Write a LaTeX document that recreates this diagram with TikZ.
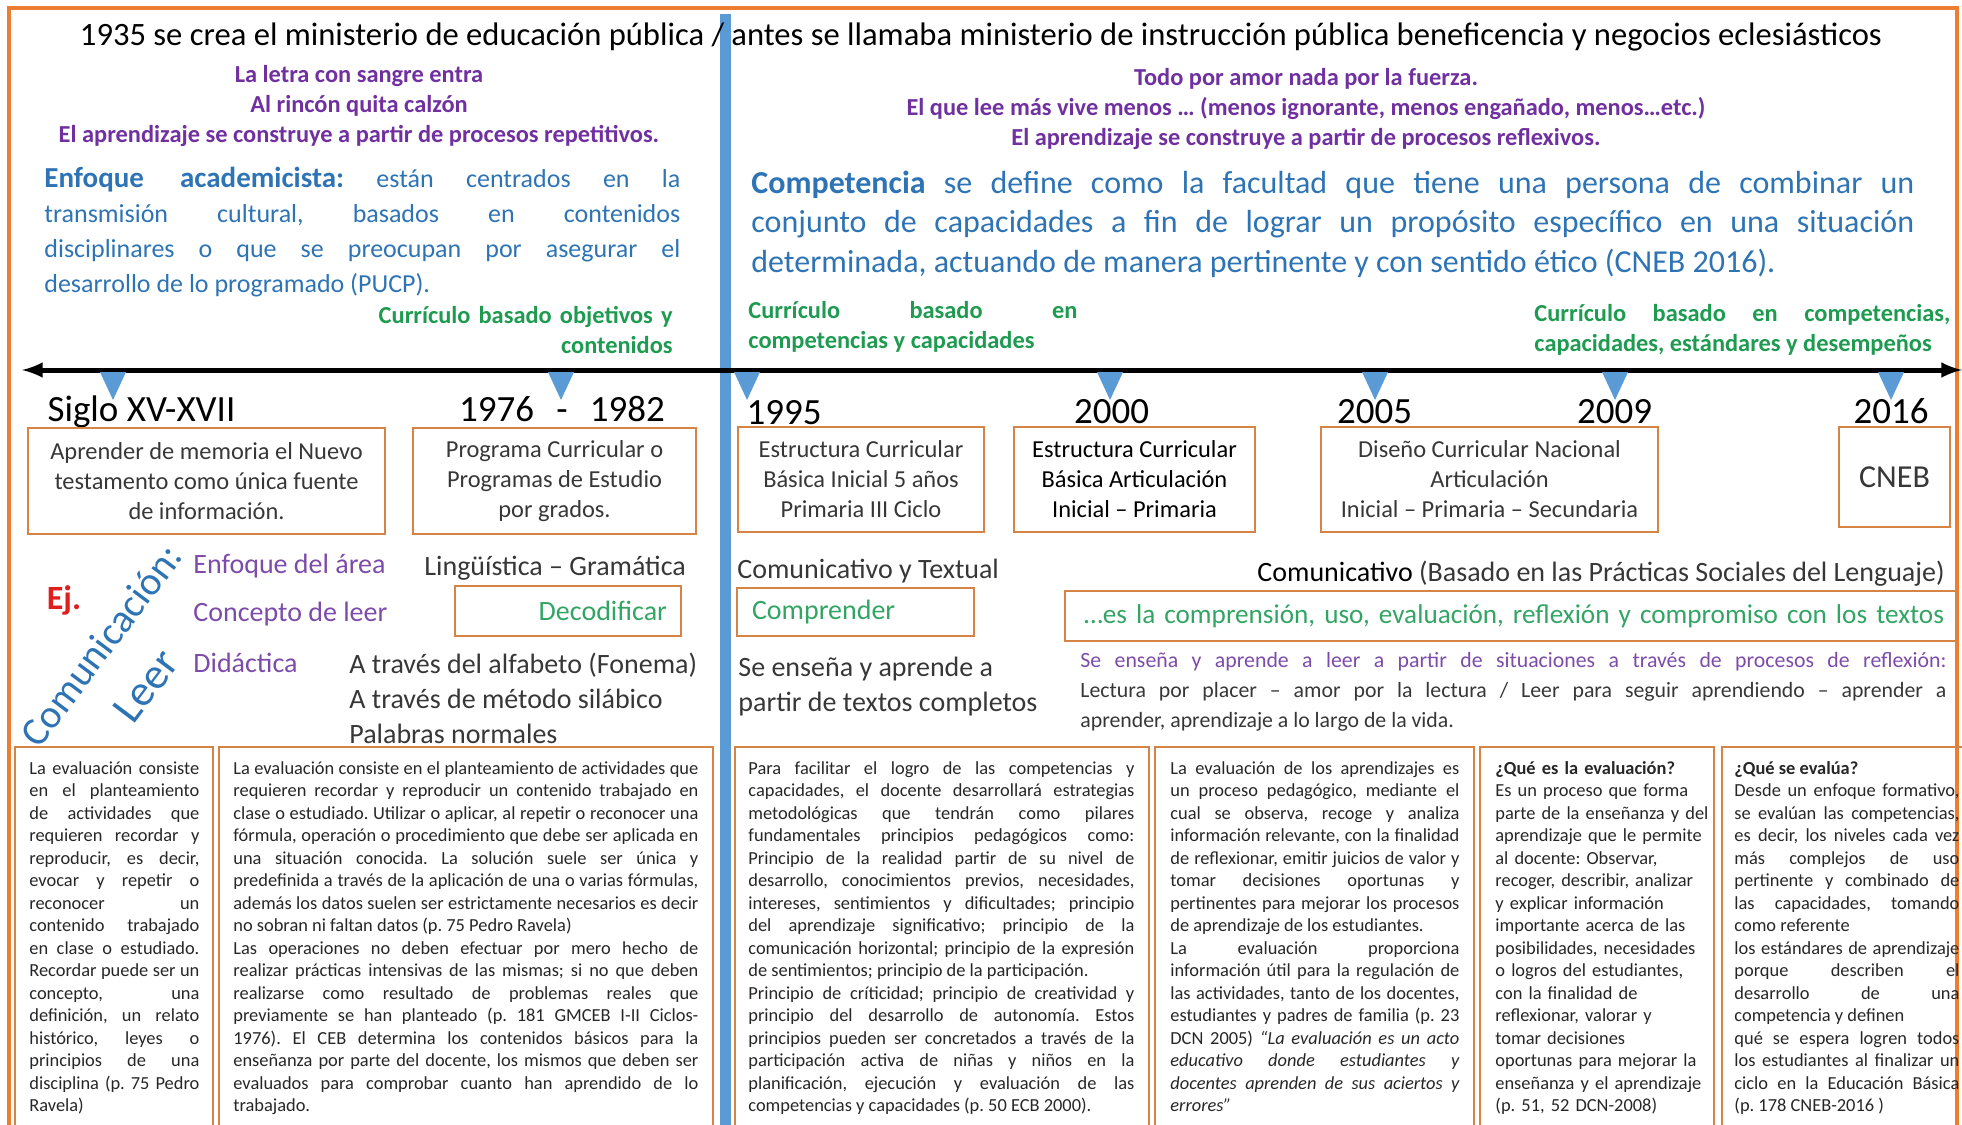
\documentclass[tikz,border=0pt]{standalone}
\usepackage{fontspec}
\setmainfont{Carlito}
\usepackage{tikz}
\setlength{\parindent}{0pt}
\frenchspacing

\definecolor{frameorange}{RGB}{237,125,49}
\definecolor{boxorange}{RGB}{214,132,70}
\definecolor{barblue}{RGB}{91,155,213}
\definecolor{txtblue}{RGB}{46,116,181}
\definecolor{txtpurple}{RGB}{112,48,160}
\definecolor{lblpurple}{RGB}{125,75,170}
\definecolor{txtgreen}{RGB}{30,155,80}
\definecolor{lightgreen}{RGB}{50,165,100}
\definecolor{txtgray}{RGB}{55,55,55}
\definecolor{ejred}{RGB}{225,30,30}

\tikzset{
  orangebox/.style={draw=boxorange, line width=1pt},
  yearlbl/.style={font=\fontsize{18.5}{22}\selectfont, anchor=mid, inner sep=0pt},
  saying/.style={font=\fontsize{12.2}{15}\selectfont\bfseries, text=txtpurple, anchor=mid, inner sep=0pt},
  currlbl/.style={font=\fontsize{12.2}{15}\selectfont\bfseries, text=txtgreen, inner sep=0pt},
  periodbox/.style={orangebox, font=\fontsize{12.2}{15}\selectfont, text=txtgray, align=center, inner sep=0pt},
  areatag/.style={font=\fontsize{14}{17}\selectfont, text=lblpurple, anchor=mid west, inner sep=0pt},
  plainline/.style={font=\fontsize{14}{17}\selectfont, text=txtgray, anchor=mid west, inner sep=0pt},
  evaltext/.style={font=\fontsize{9.2}{11.25}\selectfont, text=black!85, anchor=base west, inner sep=0pt, align=justify},
  yeartick/.style={fill=barblue}
}

\begin{document}
\begin{tikzpicture}[x=0.5pt, y=-0.5pt]
\useasboundingbox (0,0) rectangle (1962,1124);
\clip (0,0) rectangle (1962,1124);

% marco y division
\draw[frameorange, line width=2pt] (9,8) rectangle (1957,1140);
\fill[barblue] (720,14) rectangle (731,1130);

% titulo
\node[font=\fontsize{16.3}{19}\selectfont, anchor=mid, inner sep=0pt] (title) at (981,40.5) {1935 se crea el ministerio de educación pública / antes se llamaba ministerio de instrucción pública beneficencia y negocios eclesiásticos};

% frases
\node[saying] (say-l1) at (359,77.5) {La letra con sangre entra};
\node[saying] (say-l2) at (359,107.5) {Al rincón quita calzón};
\node[saying] (say-l3) at (359,137.5) {El aprendizaje se construye a partir de procesos repetitivos.};
\node[saying] (say-r1) at (1306,81) {Todo por amor nada por la fuerza.};
\node[saying] (say-r2) at (1306,111) {El que lee más vive menos … (menos ignorante, menos engañado, menos…etc.)};
\node[saying] (say-r3) at (1306,141) {El aprendizaje se construye a partir de procesos reflexivos.};

% enfoques
\node[anchor=base west, inner sep=0pt, text width=318pt, align=justify, font=\fontsize{13}{17.5}\selectfont, text=txtblue] (enfoque) at (44,187.5) {{\fontsize{14.5}{17.5}\selectfont\bfseries Enfoque academicista:} están centrados en la\linebreak transmisión cultural, basados en contenidos\linebreak disciplinares o que se preocupan por asegurar el\linebreak desarrollo de lo programado (PUCP).};
\node[anchor=base west, inner sep=0pt, text width=581.5pt, align=justify, font=\fontsize{16}{19.75}\selectfont, text=txtblue] (competencia) at (751,193) {\textbf{Competencia} se define como la facultad que tiene una persona de combinar un\linebreak conjunto de capacidades a fin de lograr un propósito específico en una situación\linebreak determinada, actuando de manera pertinente y con sentido ético (CNEB 2016).};

\node[currlbl, anchor=base east, text width=160pt, align=right] (curr-obj) at (673,323.5) {Currículo basado objetivos y\\contenidos};
\node[currlbl, anchor=base west, text width=164.5pt, align=justify] (curr-comp) at (748,318.5) {Currículo basado en\linebreak competencias y capacidades};
\node[currlbl, anchor=base west, text width=208pt, align=justify] (curr-std) at (1534,321.5) {Currículo basado en competencias,\linebreak capacidades, estándares y desempeños};

% linea de tiempo
\coordinate (tl-west) at (22,370);
\coordinate (tl-east) at (1962,370);
\draw[line width=2.5pt, latex-latex] (tl-west) -- (tl-east);
\fill[yeartick] (100,372) -- (126,372) -- (113,400) -- cycle;
\fill[yeartick] (548,372) -- (574,372) -- (561,400) -- cycle;
\fill[yeartick] (734,372) -- (760,372) -- (747,400) -- cycle;
\fill[yeartick] (1097,372) -- (1123,372) -- (1110,400) -- cycle;
\fill[yeartick] (1362,372) -- (1388,372) -- (1375,400) -- cycle;
\fill[yeartick] (1602,372) -- (1628,372) -- (1615,400) -- cycle;
\fill[yeartick] (1878,372) -- (1904,372) -- (1891,400) -- cycle;

\node[yearlbl] (y-siglo) at (141.5,416.5) {Siglo XV-XVII};
\node[yearlbl] (y-1976) at (562,416.5) {1976\hspace{0.6em}-\hspace{0.6em}1982};
\node[yearlbl] (y-1995) at (784,420) {1995};
\node[yearlbl] (y-2000) at (1111.5,419) {2000};
\node[yearlbl] (y-2005) at (1374.5,419) {2005};
\node[yearlbl] (y-2009) at (1614.5,419) {2009};
\node[yearlbl] (y-2016) at (1891,419) {2016};

\node[periodbox, minimum width=178.5pt, minimum height=53pt] (p-siglo) at (206.5,481) {Aprender de memoria el Nuevo\\testamento como única fuente\\de información.};
\node[periodbox, minimum width=141.5pt, minimum height=53pt] (p-1976) at (554.5,481) {Programa Curricular o\\Programas de Estudio\\por grados.};
\node[periodbox, minimum width=123pt, minimum height=52.5pt] (p-1995) at (861,479.5) {Estructura Curricular\\Básica Inicial 5 años\\Primaria III Ciclo};
\node[periodbox, minimum width=120.5pt, minimum height=52.5pt, text=black] (p-2000) at (1134.5,479.5) {Estructura Curricular\\Básica Articulación\\Inicial – Primaria};
\node[periodbox, minimum width=168.5pt, minimum height=52.5pt] (p-2005) at (1489.5,479.5) {Diseño Curricular Nacional\\Articulación\\Inicial – Primaria – Secundaria};
\node[periodbox, minimum width=55.5pt, minimum height=50pt, font=\fontsize{16}{19}\selectfont] (p-2016) at (1894.5,477) {CNEB};

% ejemplo: comunicacion
\node[font=\fontsize{17}{20}\selectfont\bfseries, text=ejred, anchor=mid, inner sep=0pt] (ej) at (64,605) {Ej.};
\node[font=\fontsize{20}{24}\selectfont, text=txtblue, rotate=53, inner sep=0pt] (area) at (101,645) {Comunicación:};
\node[font=\fontsize{22}{26}\selectfont, text=txtblue, rotate=53, inner sep=0pt] (leer) at (146,686) {Leer};

\node[areatag] (tag-enfoque) at (193,569) {Enfoque del área};
\node[areatag] (tag-concepto) at (193,617) {Concepto de leer};
\node[areatag] (tag-didactica) at (193,668) {Didáctica};

\node[plainline] (old-enfoque) at (424,571) {Lingüística – Gramática};
\node[orangebox, font=\fontsize{14}{17}\selectfont, text=lightgreen, minimum height=25pt, inner xsep=7pt, inner ysep=0pt, text width=99pt, align=right] (old-concepto) at (568,611) {Decodificar};
\node[plainline] (old-did1) at (349,669) {A través del alfabeto (Fonema)};
\node[plainline] (old-did2) at (349,704) {A través de método silábico};
\node[plainline] (old-did3) at (349,739) {Palabras normales};

\node[plainline] (mid-enfoque) at (737,574) {Comunicativo y Textual};
\node[orangebox, font=\fontsize{14}{17}\selectfont, text=lightgreen, minimum height=24pt, inner xsep=7.5pt, inner ysep=0pt, text width=103.5pt, align=left] (mid-concepto) at (855.5,612) {Comprender};
\node[plainline] (mid-did1) at (738,672) {Se enseña y aprende a};
\node[plainline] (mid-did2) at (738,707) {partir de textos completos};

\node[plainline, anchor=mid east] (new-enfoque) at (1945,577) {\textcolor{black}{Comunicativo} (Basado en las Prácticas Sociales del Lenguaje)};
\node[orangebox, font=\fontsize{13.6}{17}\selectfont, text=lightgreen, minimum height=25pt, inner xsep=9.5pt, inner ysep=0pt, text width=426.5pt, align=left] (new-concepto) at (1510.5,616) {\mbox{…es la comprensión, uso, evaluación, reflexión y compromiso con los textos}};
\node[anchor=base west, inner sep=0pt, text width=433pt, align=justify, font=\fontsize{10.9}{15}\selectfont, text=txtgray] (new-did) at (1080,667) {\textcolor{lblpurple}{Se enseña y aprende a leer a partir de situaciones a través de procesos de reflexión:}\linebreak Lectura por placer – amor por la lectura / Leer para seguir aprendiendo – aprender a\linebreak aprender, aprendizaje a lo largo de la vida.};

% evaluacion
\draw[orangebox] (15,747) rectangle (213,1140);
\draw[orangebox] (219,747) rectangle (713,1140);
\draw[orangebox] (735,747) rectangle (1149,1140);
\draw[orangebox] (1155,747) rectangle (1474,1140);
\draw[orangebox] (1480,747) rectangle (1714,1140);
\draw[orangebox] (1722,747) rectangle (1972,1140);

\node[evaltext, text width=85pt] (eval-1) at (29,774) {La evaluación consiste\linebreak en el planteamiento\linebreak de actividades que\linebreak requieren recordar y\linebreak reproducir, es decir,\linebreak evocar y repetir o\linebreak reconocer un\linebreak contenido trabajado\linebreak en clase o estudiado.\linebreak Recordar puede ser un\linebreak concepto, una\linebreak definición, un relato\linebreak histórico, leyes o\linebreak principios de una\linebreak disciplina (p. 75 Pedro\linebreak Ravela)};
\node[evaltext, text width=232.5pt] (eval-2) at (233,774) {La evaluación consiste en el planteamiento de actividades que\linebreak requieren recordar y reproducir un contenido trabajado en\linebreak clase o estudiado. Utilizar o aplicar, al repetir o reconocer una\linebreak fórmula, operación o procedimiento que debe ser aplicada en\linebreak una situación conocida. La solución suele ser única y\linebreak predefinida a través de la aplicación de una o varias fórmulas,\linebreak además los datos suelen ser estrictamente necesarios es decir\linebreak no sobran ni faltan datos (p. 75 Pedro Ravela)\par Las operaciones no deben efectuar por mero hecho de\linebreak realizar prácticas intensivas de las mismas; si no que deben\linebreak realizarse como resultado de problemas reales que\linebreak previamente se han planteado (p. 181 GMCEB I-II Ciclos-\linebreak 1976). El CEB determina los contenidos básicos para la\linebreak enseñanza por parte del docente, los mismos que deben ser\linebreak evaluados para comprobar cuanto han aprendido de lo\linebreak trabajado.};
\node[evaltext, text width=193pt] (eval-3) at (748,774) {Para facilitar el logro de las competencias y\linebreak capacidades, el docente desarrollará estrategias\linebreak metodológicas que tendrán como pilares\linebreak fundamentales principios pedagógicos como:\linebreak Principio de la realidad partir de su nivel de\linebreak desarrollo, conocimientos previos, necesidades,\linebreak intereses, sentimientos y dificultades; principio\linebreak del aprendizaje significativo; principio de la\linebreak comunicación horizontal; principio de la expresión\linebreak de sentimientos; principio de la participación.\par Principio de críticidad; principio de creatividad y\linebreak principio del desarrollo de autonomía. Estos\linebreak principios pueden ser concretados a través de la\linebreak participación activa de niñas y niños en la\linebreak planificación, ejecución y evaluación de las\linebreak competencias y capacidades (p. 50 ECB 2000).};
\node[evaltext, text width=144.5pt] (eval-4) at (1170,774) {La evaluación de los aprendizajes es\linebreak un proceso pedagógico, mediante el\linebreak cual se observa, recoge y analiza\linebreak información relevante, con la finalidad\linebreak de reflexionar, emitir juicios de valor y\linebreak tomar decisiones oportunas y\linebreak pertinentes para mejorar los procesos\linebreak de aprendizaje de los estudiantes.\par La evaluación proporciona\linebreak información útil para la regulación de\linebreak las actividades, tanto de los docentes,\linebreak estudiantes y padres de familia (p. 23\linebreak DCN 2005) {\itshape “La evaluación es un acto\linebreak educativo donde estudiantes y\linebreak docentes aprenden de sus aciertos y\linebreak errores”}};
\node[evaltext, text width=108pt, align=left] (eval-5) at (1495,774) {\textbf{¿Qué es la evaluación?}\\Es un proceso que forma\\parte de la enseñanza y del\\aprendizaje que le permite\\al docente: Observar,\\recoger, describir, analizar\\y explicar información\\importante acerca de las\\posibilidades, necesidades\\o logros del estudiantes,\\con la finalidad de\\reflexionar, valorar y\\tomar decisiones\\oportunas para mejorar la\\enseñanza y el aprendizaje\\(p. 51, 52 DCN-2008)};
\node[evaltext, text width=112.5pt] (eval-6) at (1734,774) {\textbf{¿Qué se evalúa?}\par Desde un enfoque formativo,\linebreak se evalúan las competencias,\linebreak es decir, los niveles cada vez\linebreak más complejos de uso\linebreak pertinente y combinado de\linebreak las capacidades, tomando\linebreak como referente\par los estándares de aprendizaje\linebreak porque describen el\linebreak desarrollo de una\linebreak competencia y definen\par qué se espera logren todos\linebreak los estudiantes al finalizar un\linebreak ciclo en la Educación Básica\linebreak (p. 178 CNEB-2016 )};

\end{tikzpicture}
\end{document}
